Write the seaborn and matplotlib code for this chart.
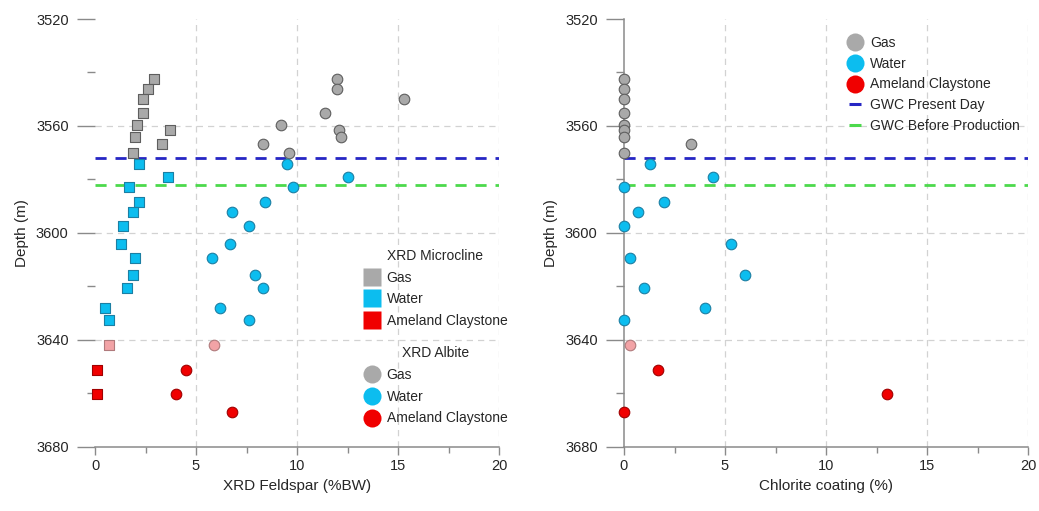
import numpy as np
import pandas as pd
import matplotlib
matplotlib.use("Agg")
import matplotlib.pyplot as plt
from matplotlib.lines import Line2D
from matplotlib.ticker import MultipleLocator
import seaborn as sns

# ---------------- data ----------------
gas_depth = [3542.5, 3546.3, 3550.1, 3555.3, 3559.5, 3561.6, 3564.1, 3566.8, 3570.1]
gas_microcline = [2.9, 2.6, 2.4, 2.4, 2.1, 3.7, 2.0, 3.3, 1.9]
gas_albite = [12.0, 12.0, 15.3, 11.4, 9.2, 12.1, 12.2, 8.3, 9.6]
gas_chlorite = [0.0, 0.0, 0.0, 0.0, 0.0, 0.0, 0.0, 3.3, 0.0]

water_depth = [3574.3, 3579.1, 3582.7, 3588.6, 3592.1, 3597.6, 3604.3, 3609.4,
               3615.8, 3620.5, 3628.2, 3632.5]
water_microcline = [2.2, 3.6, 1.7, 2.2, 1.9, 1.4, 1.3, 2.0, 1.9, 1.6, 0.5, 0.7]
water_albite = [9.5, 12.5, 9.8, 8.4, 6.8, 7.6, 6.7, 5.8, 7.9, 8.3, 6.2, 7.6]
water_chlorite = [1.3, 4.4, 0.0, 2.0, 0.7, 0.0, 5.3, 0.3, 6.0, 1.0, 4.0, 0.0]

trans_depth = [3642.1]
trans_microcline = [0.7]
trans_albite = [5.9]
trans_chlorite = [0.3]

clay_depth = [3651.3, 3660.2, 3667.2]
clay_microcline = [0.1, 0.1, np.nan]
clay_albite = [4.5, 4.0, 6.8]
clay_chlorite = [1.7, 13.0, 0.0]

gwc_present = 3572.0
gwc_before = 3582.0

groups = ["Gas", "Water", "Transition", "Ameland Claystone"]
legend_groups = ["Gas", "Water", "Ameland Claystone"]

df = pd.concat([
    pd.DataFrame({"depth": gas_depth, "microcline": gas_microcline,
                  "albite": gas_albite, "chlorite": gas_chlorite, "group": "Gas"}),
    pd.DataFrame({"depth": water_depth, "microcline": water_microcline,
                  "albite": water_albite, "chlorite": water_chlorite, "group": "Water"}),
    pd.DataFrame({"depth": trans_depth, "microcline": trans_microcline,
                  "albite": trans_albite, "chlorite": trans_chlorite, "group": "Transition"}),
    pd.DataFrame({"depth": clay_depth, "microcline": clay_microcline,
                  "albite": clay_albite, "chlorite": clay_chlorite, "group": "Ameland Claystone"}),
], ignore_index=True)

# ---------------- style ----------------
face = {"Gas": "#A9A9A9", "Water": "#0CBDEF", "Transition": "#F2A3A6",
        "Ameland Claystone": "#F00000"}
edge = {"Gas": "#5E5E5E", "Water": "#1C7FA3", "Transition": "#B07A7C",
        "Ameland Claystone": "#A00000"}
c_present = "#2626C4"
c_before = "#4CD94C"
axis_gray = "#8A8A8A"
grid_gray = "#D2D2D2"
text_col = "#262626"

sns.set_theme(style="white")
plt.rcParams["font.family"] = ["Liberation Sans", "DejaVu Sans"]
plt.rcParams["text.color"] = text_col
plt.rcParams["axes.labelcolor"] = text_col

fig = plt.figure(figsize=(10.39, 5.11), dpi=100)
W, H = 1039, 511
axL = fig.add_axes([95 / W, 1 - 446.5 / H, 404 / W, 427.5 / H])
axR = fig.add_axes([624 / W, 1 - 446.5 / H, 404 / W, 427.5 / H])

MS = 58


def style_axes(ax, show_left):
    ax.set_xlim(0, 20)
    ax.set_ylim(3680, 3520)
    ax.xaxis.set_major_locator(MultipleLocator(5))
    ax.xaxis.set_minor_locator(MultipleLocator(2.5))
    ax.yaxis.set_major_locator(MultipleLocator(40))
    ax.yaxis.set_minor_locator(MultipleLocator(20))
    ax.tick_params(axis="y", which="major", direction="out", length=13, width=1.0,
                   color=axis_gray, labelsize=10.5, labelcolor=text_col, pad=6, left=True)
    ax.tick_params(axis="y", which="minor", direction="out", length=6, width=1.0,
                   color=axis_gray, left=True)
    ax.tick_params(axis="x", which="major", direction="out", length=6, width=1.0,
                   color=axis_gray, labelsize=10.5, labelcolor=text_col, pad=3, bottom=True)
    ax.tick_params(axis="x", which="minor", direction="out", length=4, width=1.0,
                   color=axis_gray, bottom=True)
    ax.grid(True, which="major", color=grid_gray, linestyle=(0, (5, 4)), linewidth=0.9)
    for s in ["top", "right"]:
        ax.spines[s].set_visible(False)
    ax.spines["bottom"].set_color(axis_gray)
    ax.spines["bottom"].set_linewidth(1.1)
    ax.spines["left"].set_color(axis_gray)
    ax.spines["left"].set_linewidth(1.1)
    ax.spines["left"].set_visible(show_left)
    ax.set_axisbelow(True)


def hide_edge_grid(ax):
    for g, t in zip(ax.get_xgridlines(), ax.get_xticks()):
        if abs(t) < 1e-6:
            g.set_visible(False)
    for g, t in zip(ax.get_ygridlines(), ax.get_yticks()):
        if abs(t - 3520) < 1e-6 or abs(t - 3680) < 1e-6:
            g.set_visible(False)


def finish(ax, xlabel):
    ax.set_xlim(0, 20)
    ax.set_ylim(3680, 3520)
    ax.set_xlabel(xlabel, fontsize=11, labelpad=4)
    ax.set_ylabel("Depth (m)", fontsize=11, labelpad=5)


# ---------------- left panel ----------------
style_axes(axL, show_left=False)
for g in groups:
    sub = df[df["group"] == g]
    sns.scatterplot(data=sub, x="microcline", y="depth", ax=axL, marker="s", s=MS,
                    color=face[g], edgecolor=edge[g], linewidth=0.8, legend=False,
                    zorder=4, clip_on=False)
    sns.scatterplot(data=sub, x="albite", y="depth", ax=axL, marker="o", s=MS,
                    color=face[g], edgecolor=edge[g], linewidth=0.8, legend=False,
                    zorder=4, clip_on=False)
axL.plot([0, 20], [gwc_present] * 2, color=c_present, lw=2.0, ls=(0, (4, 3.2)), zorder=3)
axL.plot([0, 20], [gwc_before] * 2, color=c_before, lw=2.0, ls=(0, (4, 3.2)), zorder=3)
finish(axL, "XRD Feldspar (%BW)")

sq_handles = [Line2D([], [], marker="s", ls="none", markersize=13,
                     markerfacecolor=face[g], markeredgecolor="none") for g in legend_groups]
ci_handles = [Line2D([], [], marker="o", ls="none", markersize=13,
                     markerfacecolor=face[g], markeredgecolor="none") for g in legend_groups]
leg_kw = dict(frameon=False, fontsize=10, title_fontsize=10, labelspacing=0.55,
              handletextpad=0.45, handlelength=1.2, borderaxespad=0, borderpad=0)
leg1 = axL.legend(sq_handles, legend_groups, title="XRD Microcline", loc="upper left",
                  bbox_to_anchor=(0.665, 0.462), **leg_kw)
axL.add_artist(leg1)
leg2 = axL.legend(ci_handles, legend_groups, title="XRD Albite", loc="upper left",
                  bbox_to_anchor=(0.665, 0.234), **leg_kw)

# ---------------- right panel ----------------
style_axes(axR, show_left=True)
for g in groups:
    sub = df[df["group"] == g]
    sns.scatterplot(data=sub, x="chlorite", y="depth", ax=axR, marker="o", s=MS,
                    color=face[g], edgecolor=edge[g], linewidth=0.8, legend=False,
                    zorder=4, clip_on=False)
axR.plot([0, 20], [gwc_present] * 2, color=c_present, lw=2.0, ls=(0, (4, 3.2)), zorder=3)
axR.plot([0, 20], [gwc_before] * 2, color=c_before, lw=2.0, ls=(0, (4, 3.2)), zorder=3)
finish(axR, "Chlorite coating (%)")

r_handles = ci_handles + [
    Line2D([], [], marker="_", ls="none", markersize=8, markeredgewidth=2.2,
           markeredgecolor=c_present),
    Line2D([], [], marker="_", ls="none", markersize=8, markeredgewidth=2.2,
           markeredgecolor=c_before),
]
r_labels = legend_groups + ["GWC Present Day", "GWC Before Production"]
axR.legend(r_handles, r_labels, loc="upper left", bbox_to_anchor=(0.552, 0.96),
           frameon=False, fontsize=10, labelspacing=0.48, handletextpad=0.45,
           handlelength=1.2, borderaxespad=0, borderpad=0)

fig.canvas.draw()
hide_edge_grid(axL)
hide_edge_grid(axR)

fig.savefig("out.png", dpi=100)
